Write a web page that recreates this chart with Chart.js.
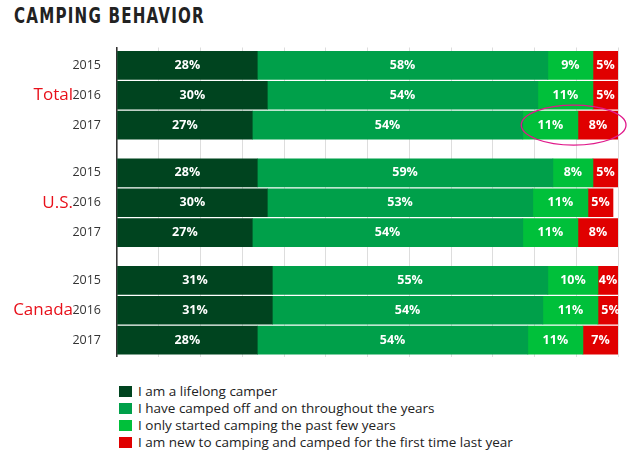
<!DOCTYPE html>
<html><head><meta charset="utf-8">
<script src="https://cdn.jsdelivr.net/npm/chart.js@4"></script>
<style>
body{margin:0;background:#fff;font-family:"Open Sans",sans-serif;width:640px;height:457px;overflow:hidden}
#title{position:absolute;left:14px;top:4px;font:bold 21px "DejaVu Sans Condensed";letter-spacing:1.5px;color:#222;transform:scaleX(0.8);transform-origin:left}
#wrap{position:absolute;left:0;top:32px;width:630px;height:340px}
#legend{position:absolute;left:119px;top:383px;font-size:13.5px;color:#222;line-height:17px}
#legend span{display:inline-block;width:13px;height:11px;margin-right:6px;vertical-align:-1px}
</style></head><body>
<div id="title">CAMPING BEHAVIOR</div>
<div id="wrap"><canvas id="c"></canvas></div>
<div id="legend"></div>
<script>
const years = ['2015','2016','2017','2015','2016','2017','2015','2016','2017'];
const rowPos = [0,1,2,3.6,4.6,5.6,7.2,8.2,9.2];
const groups = ['Total','U.S.','Canada'];
const seriesNames = ['I am a lifelong camper','I have camped off and on throughout the years','I only started camping the past few years','I am new to camping and camped for the first time last year'];
const lifelong = [28,30,27,28,30,27,31,31,28];
const onOff = [58,54,54,59,53,54,55,54,54];
const started = [9,11,11,8,11,11,10,11,11];
const newer = [5,5,8,5,5,8,4,5,7];
const colors = ['#00441f','#00a04a','#00c03a','#e00000'];

const values = [lifelong,onOff,started,newer];
document.getElementById('legend').innerHTML = seriesNames.map((n,i)=>`<div><span style="background:${colors[i]}"></span>${n}</div>`).join('');

const labelsPlugin = {
  id:'labels',
  afterDatasetsDraw(chart){
    const ctx = chart.ctx, x = chart.scales.x, y = chart.scales.y;
    ctx.save();
    ctx.font = 'bold 12.5px "Open Sans"';
    ctx.fillStyle = '#fff'; ctx.textAlign='center'; ctx.textBaseline='middle';
    chart.data.datasets.forEach((ds,di)=>{
      chart.getDatasetMeta(di).data.forEach((bar,i)=>{
        ctx.fillText(ds.data[i].x+'%', (bar.x + bar.base)/2, bar.y);
      });
    });
    ctx.font = '17px "Open Sans"'; ctx.fillStyle = '#e8101a'; ctx.textAlign='right';
    [1,4.6,8.2].forEach((p,i)=>ctx.fillText(groups[i], 73, y.getPixelForValue(p)));
    const x0 = x.getPixelForValue(81.5), x1 = x.getPixelForValue(100);
    const yc = y.getPixelForValue(2);
    ctx.strokeStyle = '#e0188a'; ctx.lineWidth = 1.3;
    ctx.beginPath();
    ctx.ellipse((x0+x1)/2+2, yc, (x1-x0)/2+6, 20, 0, 0, Math.PI*2);
    ctx.stroke();
    ctx.restore();
  }
};

new Chart(document.getElementById('c'), {
  type:'bar',
  data:{
    datasets: values.map((v,di)=>({
      label: seriesNames[di],
      backgroundColor: colors[di],
      barThickness: 28,
      data: v.map((val,i)=>({x: val, y: rowPos[i]}))
    }))
  },
  options:{
    indexAxis:'y',
    responsive:true, maintainAspectRatio:false, animation:false,
    layout:{padding:{top:0,right:12}},
    plugins:{legend:{display:false},tooltip:{enabled:false}},
    scales:{
      x:{stacked:true,min:0,max:100,
        ticks:{display:false,stepSize:100/12},
        grid:{color:'#ddd',drawTicks:false},
        border:{display:false}},
      y:{type:'linear',stacked:true,reverse:true,offset:false,min:-0.6,max:9.75,
        afterBuildTicks(s){ s.ticks = rowPos.map(v=>({value:v})); },
        ticks:{autoSkip:false,padding:8,color:'#333',font:{size:12.5,family:'Open Sans'},
          callback:(v)=>years[rowPos.indexOf(v)] || ''},
        afterFit(s){ s.width = 117; },
        grid:{display:false},
        border:{color:'#333',width:1.5}}
    }
  },
  plugins:[labelsPlugin]
});
</script>
</body></html>
